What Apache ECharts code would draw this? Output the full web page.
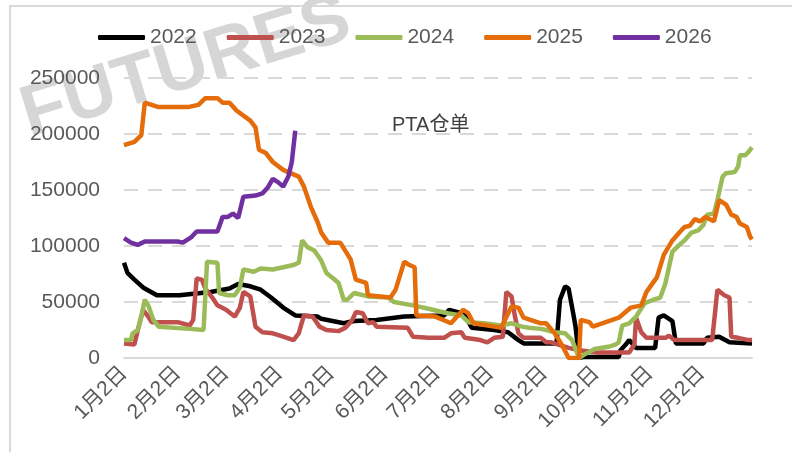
<!DOCTYPE html>
<html>
<head>
<meta charset="utf-8">
<script src="https://cdn.jsdelivr.net/npm/echarts@6.0.0/dist/echarts.min.js"></script>
<style>
  html, body { margin: 0; padding: 0; background: #fff; }
  #chart { width: 792px; height: 452px; }
</style>
</head>
<body>
<div id="chart"></div>
<script>
// 横轴：1月2日 ~ 12月31日，每天一个类别
const monthDays = [31, 28, 31, 30, 31, 30, 31, 31, 30, 31, 30, 31];
const dayLabels = [];
for (let m = 0; m < 12; m++) {
  for (let d = (m === 0 ? 2 : 1); d <= monthDays[m]; d++) {
    dayLabels.push((m + 1) + '月' + d + '日');
  }
}

const seriesNames = ['2022', '2023', '2024', '2025', '2026'];
const seriesColors = ['#000000', '#c0504d', '#9bbb59', '#e46c0a', '#7030a0'];
const yTicks = [0, 50000, 100000, 150000, 200000, 250000];

// [距1月2日的天数, 仓单量]
const data2022 = [
  [0, 85000], [2, 76000], [6, 70000], [11, 63000], [19, 56000], [32, 56000], [50, 59000],
  [61, 62000], [66, 66000], [73, 64000], [79, 61000], [85, 54000], [92, 45000], [99, 38000],
  [112, 37000], [114, 35000], [127, 31000], [133, 33000], [146, 34000], [162, 37000],
  [185, 38000], [188, 43000], [193, 41000], [197, 38000], [201, 27000], [214, 25000],
  [222, 23000], [228, 16000], [231, 13000], [250, 13000], [252, 52000], [255, 64000],
  [257, 62000], [260, 37000], [261, 28000], [263, 0], [266, 1000], [286, 1000], [287, 7000],
  [290, 12000], [292, 16000], [296, 9000], [307, 9000], [309, 36000], [312, 38000],
  [317, 33000], [319, 13000], [335, 13000], [337, 18000], [344, 19000], [350, 14000], [363, 13000]
];
const data2023 = [
  [0, 13000], [6, 12000], [8, 25000], [11, 43000], [14, 37000], [16, 32000], [31, 32000],
  [38, 29000], [40, 34000], [42, 71000], [45, 70000], [47, 62000], [51, 54000], [54, 47000],
  [59, 43000], [64, 37000], [67, 45000], [69, 59000], [73, 55000], [76, 28000], [80, 23000],
  [86, 22000], [92, 19000], [98, 16000], [101, 22000], [104, 38000], [109, 37000],
  [113, 28000], [117, 25000], [124, 24000], [128, 27000], [132, 34000], [134, 41000],
  [138, 40000], [141, 31000], [144, 32000], [146, 28000], [164, 27000], [167, 19000],
  [176, 18000], [185, 18000], [189, 22000], [195, 23000], [197, 18000], [206, 16000],
  [210, 14000], [214, 18000], [219, 19000], [221, 59000], [224, 55000], [226, 37000],
  [228, 22000], [231, 18000], [241, 18000], [244, 14000], [247, 14000], [257, 9000],
  [263, 7000], [274, 5000], [292, 5000], [295, 12000], [296, 36000], [299, 23000],
  [302, 18000], [313, 18000], [315, 20000], [318, 16000], [340, 16000], [343, 61000],
  [347, 56000], [350, 54000], [351, 19000], [355, 18000], [361, 16000], [363, 16000]
];
const data2024 = [
  [0, 16000], [4, 16000], [5, 22000], [8, 25000], [10, 37000], [12, 52000], [14, 47000],
  [17, 34000], [20, 28000], [38, 26000], [46, 25000], [48, 86000], [54, 85000], [55, 58000],
  [60, 56000], [64, 56000], [67, 63000], [69, 79000], [75, 77000], [79, 80000], [86, 79000],
  [92, 81000], [98, 83000], [101, 85000], [103, 105000], [106, 99000], [110, 96000],
  [114, 87000], [117, 76000], [121, 71000], [124, 67000], [127, 52000], [129, 52000],
  [133, 58000], [141, 55000], [153, 54000], [156, 50000], [167, 47000], [176, 44000],
  [187, 40000], [195, 38000], [199, 32000], [208, 31000], [218, 29000], [224, 31000],
  [230, 28000], [234, 27000], [241, 26000], [244, 25000], [249, 23000], [255, 22000],
  [259, 16000], [263, 0], [266, 3000], [272, 8000], [280, 10000], [284, 12000], [286, 14000],
  [288, 29000], [292, 31000], [296, 37000], [301, 49000], [306, 52000], [310, 54000],
  [313, 67000], [315, 81000], [317, 95000], [321, 101000], [324, 105000], [328, 112000],
  [332, 114000], [335, 119000], [337, 128000], [341, 129000], [343, 141000], [346, 162000],
  [348, 165000], [353, 166000], [355, 171000], [356, 181000], [359, 181000], [361, 184000],
  [363, 188000]
];
const data2025 = [
  [0, 190000], [6, 193000], [10, 199000], [12, 228000], [20, 224000], [37, 224000],
  [43, 226000], [47, 232000], [54, 232000], [57, 228000], [61, 228000], [65, 221000],
  [73, 212000], [76, 206000], [78, 186000], [82, 183000], [86, 175000], [92, 168000],
  [101, 162000], [104, 153000], [108, 135000], [112, 121000], [114, 112000], [118, 103000],
  [125, 103000], [131, 88000], [134, 70000], [140, 67000], [141, 56000], [154, 54000],
  [157, 61000], [162, 86000], [165, 83000], [168, 81000], [169, 38000], [180, 37000],
  [189, 31000], [196, 43000], [199, 40000], [202, 31000], [214, 28000], [218, 27000],
  [224, 46000], [228, 45000], [231, 36000], [241, 31000], [244, 31000], [249, 22000],
  [253, 12000], [257, 0], [263, 0], [264, 34000], [269, 32000], [271, 28000], [286, 36000],
  [293, 45000], [299, 47000], [302, 59000], [308, 72000], [312, 92000], [317, 105000],
  [321, 112000], [324, 117000], [327, 118000], [330, 124000], [333, 122000], [336, 126000],
  [341, 122000], [344, 141000], [348, 137000], [351, 128000], [354, 126000], [356, 120000],
  [360, 117000], [362, 108000], [363, 106000]
];
const data2026 = [
  [0, 107000], [4, 103000], [8, 101000], [12, 104000], [31, 104000], [34, 103000],
  [39, 108000], [42, 113000], [54, 113000], [57, 126000], [60, 126000], [63, 129000],
  [66, 125000], [69, 144000], [76, 145000], [80, 147000], [83, 152000], [86, 160000],
  [89, 157000], [92, 153000], [95, 162000], [97, 175000], [99, 203000]
];
const allData = [data2022, data2023, data2024, data2025, data2026];

const fontFamily = '"Liberation Sans", Arial, "Noto Sans CJK SC", sans-serif';
const chart = echarts.init(document.getElementById('chart'));

const option = {
  animation: false,
  backgroundColor: '#ffffff',
  grid: {
    left: 124,
    right: 40,
    top: 78,
    bottom: 94
  },
  // 背景水印和外框
  graphic: [
    {
      type: 'rect',
      z: -20,
      shape: { x: 10, y: 6, width: 800, height: 460 },
      style: { fill: 'none', stroke: '#d9d9d9', lineWidth: 2 }
    },
    {
      type: 'text',
      z: -10,
      x: 186,
      y: 68,
      rotation: 17 * Math.PI / 180,
      style: {
        text: 'FUTURES',
        fill: '#d6d6d6',
        font: 'bold 72px "Liberation Sans", Arial, sans-serif',
        align: 'center',
        verticalAlign: 'middle'
      }
    },
    {
      type: 'text',
      left: 392,
      top: 115,
      style: {
        text: 'PTA仓单',
        fill: '#404040',
        font: '20px ' + fontFamily
      }
    }
  ],
  legend: {
    data: seriesNames,
    left: 98,
    top: 27,
    padding: 0,
    icon: 'roundRect',
    itemWidth: 47,
    itemHeight: 5,
    itemGap: 30,
    textStyle: {
      color: '#595959',
      fontSize: 21,
      fontFamily: fontFamily
    }
  },
  xAxis: {
    type: 'category',
    data: dayLabels,
    boundaryGap: false,
    axisTick: { show: false },
    axisLine: { lineStyle: { color: '#d9d9d9', width: 2 } },
    axisLabel: {
      rotate: 45,
      margin: 12,
      color: '#595959',
      fontSize: 21,
      fontFamily: fontFamily,
      interval: function (index, value) {
        return /^\d+月2日$/.test(value);
      }
    },
    splitLine: { show: false }
  },
  yAxis: {
    type: 'value',
    min: yTicks[0],
    max: yTicks[yTicks.length - 1],
    interval: yTicks[1] - yTicks[0],
    axisLine: { show: false },
    axisTick: { show: false },
    axisLabel: {
      margin: 24,
      color: '#595959',
      fontSize: 21,
      fontFamily: fontFamily,
      formatter: function (v) { return String(v); }
    },
    splitLine: {
      lineStyle: { color: '#d9d9d9', width: 2, type: [14, 10] }
    }
  },
  series: seriesNames.map(function (name, i) {
    return {
      name: name,
      type: 'line',
      data: allData[i],
      symbol: 'none',
      color: seriesColors[i],
      lineStyle: { width: 4.5, color: seriesColors[i] }
    };
  })
};

chart.setOption(option);
</script>
</body>
</html>
